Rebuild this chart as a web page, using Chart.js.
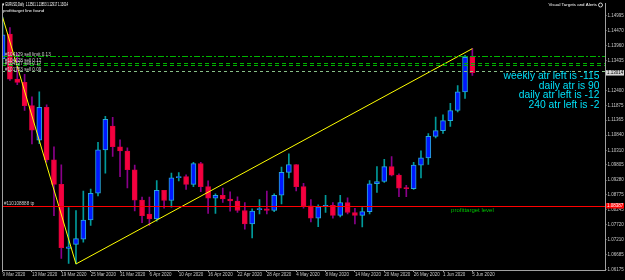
<!DOCTYPE html>
<html>
<head>
<meta charset="utf-8">
<script src="https://cdn.jsdelivr.net/npm/chart.js@4.4.0/dist/chart.umd.min.js"></script>
<style>
html, body { margin: 0; padding: 0; background: #000; }
</style>
</head>
<body>
<canvas id="chart" width="625" height="280"></canvas>
<script>
// EURUSD daily bars, 9 Mar - 5 Jun 2020
const days = ["9 Mar","10 Mar","11 Mar","12 Mar","13 Mar","16 Mar","17 Mar","18 Mar","19 Mar","20 Mar",
  "23 Mar","24 Mar","25 Mar","26 Mar","27 Mar","30 Mar","31 Mar","1 Apr","2 Apr","3 Apr",
  "6 Apr","7 Apr","8 Apr","9 Apr","10 Apr","13 Apr","14 Apr","15 Apr","16 Apr","17 Apr",
  "20 Apr","21 Apr","22 Apr","23 Apr","24 Apr","27 Apr","28 Apr","29 Apr","30 Apr","1 May",
  "4 May","5 May","6 May","7 May","8 May","11 May","12 May","13 May","14 May","15 May",
  "18 May","19 May","20 May","21 May","22 May","25 May","26 May","27 May","28 May","29 May",
  "1 Jun","2 Jun","3 Jun","4 Jun","5 Jun"]

const opens = [1.1350,1.1436,1.1279,1.1268,1.1187,1.1067,1.1181,1.0998,1.0913,1.0690,
  1.0704,1.0722,1.0789,1.0882,1.1033,1.1116,1.1044,1.1029,1.0964,1.0858,
  1.0810,1.0793,1.0892,1.0857,1.0936,1.0940,1.0913,1.0985,1.0905,1.0865,
  1.0875,1.0862,1.0855,1.0822,1.0775,1.0825,1.0828,1.0822,1.0875,1.0955,
  1.0982,1.0905,1.0838,1.0795,1.0835,1.0840,1.0805,1.0850,1.0815,1.0805,
  1.0818,1.0915,1.0923,1.0975,1.0945,1.0900,1.0898,1.0980,1.1005,1.1080,
  1.1100,1.1135,1.1170,1.1235,1.13561]
const highs = [1.1495,1.1459,1.1370,1.1296,1.1218,1.1235,1.1190,1.1044,1.0981,1.0832,
  1.0822,1.0890,1.0897,1.1059,1.1150,1.1146,1.1068,1.1040,1.0980,1.0869,
  1.0869,1.0926,1.0892,1.0952,1.0954,1.0946,1.0990,1.0990,1.0925,1.0880,
  1.0900,1.0887,1.0870,1.0850,1.0828,1.0860,1.0890,1.0880,1.0973,1.1019,
  1.0982,1.0917,1.0860,1.0842,1.0875,1.0850,1.0875,1.0866,1.0830,1.0832,
  1.0926,1.0975,1.1000,1.1010,1.0950,1.0910,1.0990,1.1030,1.1090,1.1147,
  1.1155,1.1195,1.1257,1.1362,1.13853]
const lows = [1.1330,1.1275,1.1260,1.1170,1.1054,1.1055,1.0990,1.0804,1.0655,1.0638,
  1.0636,1.0712,1.0770,1.0873,1.0952,1.1010,1.0940,1.0901,1.0821,1.0780,
  1.0770,1.0785,1.0830,1.0834,1.0925,1.0895,1.0905,1.0888,1.0812,1.0812,
  1.0850,1.0820,1.0815,1.0757,1.0727,1.0810,1.0810,1.0818,1.0845,1.0935,
  1.0890,1.0830,1.0782,1.0766,1.0815,1.0795,1.0800,1.0810,1.0775,1.0765,
  1.0810,1.0885,1.0920,1.0942,1.0870,1.0870,1.0895,1.0935,1.0982,1.1075,
  1.1090,1.1115,1.1165,1.1212,1.12917]
const closes = [1.1433,1.1279,1.1268,1.1187,1.1102,1.1181,1.0998,1.0913,1.0693,1.0696,
  1.0724,1.0789,1.0882,1.1033,1.1139,1.1044,1.1029,1.0964,1.0858,1.0804,
  1.0793,1.0892,1.0857,1.0936,1.0940,1.0913,1.0985,1.0905,1.0865,1.0875,
  1.0862,1.0855,1.0822,1.0775,1.0820,1.0828,1.0822,1.0875,1.0955,1.0982,
  1.0905,1.0838,1.0795,1.0835,1.0840,1.0805,1.0850,1.0815,1.0805,1.0818,
  1.0915,1.0923,1.0975,1.0945,1.0900,1.0898,1.0980,1.1005,1.1080,1.1100,
  1.1135,1.1170,1.1235,1.1355,1.13014]

const xTickIdx = [0,4,8,12,16,20,24,28,32,36,40,44,48,52,56,60,64]
const xTickLabels = ["9 Mar 2020","13 Mar 2020","19 Mar 2020","25 Mar 2020","31 Mar 2020","6 Apr 2020",
  "10 Apr 2020","16 Apr 2020","22 Apr 2020","28 Apr 2020","4 May 2020","8 May 2020","14 May 2020",
  "20 May 2020","26 May 2020","1 Jun 2020","5 Jun 2020"]
const yTicks = [1.14995,1.14470,1.13960,1.13435,1.12400,1.11875,1.11365,1.10840,1.10310,
  1.09805,1.09280,1.08775,1.08245,1.07720,1.07210,1.06685,1.06175]

// trend line anchors (bar index, price)
const trendIdx = [0, 10, 64]
const trendPrice = [1.1495, 1.0636, 1.13853]

// order lines and their labels
const orderPrices = [1.13581, 1.13358, 1.13272, 1.13064]
const orderLabels = ["#104129 sell limit 0.13", "#104128 sell 0.17", "#104127 sell 0.17", "#101753 sell 0.09"]
const targetPrice = 1.08387
const targetLabel = "#110108888 tp"
const bidPrice = 1.13014

const atrTexts = ["weekly atr left is -115", "daily atr is 90", "daily atr left is -12", "240 atr left is -2"]
const title = "\u25BC EURUSD,Daily  1.13561 1.13853 1.12917 1.13014"

const bull = days.map((d, i) => closes[i] >= opens[i])

const bodies = days.map((d, i) => ({ x: i, y: [Math.min(opens[i], closes[i]), Math.max(opens[i], closes[i])] }))
const wicks = days.map((d, i) => ({ x: i, y: [lows[i], highs[i]] }))
const trend = trendIdx.map((v, i) => ({ x: v, y: trendPrice[i] }))

function txt(ctx, s, x, y, color, size, align, fitW) {
    ctx.save()
    ctx.font = size + "px 'Liberation Sans', Arial, sans-serif"
    ctx.fillStyle = color
    ctx.textBaseline = "middle"
    let w = ctx.measureText(s).width
    let k = fitW ? fitW / w : 1
    ctx.translate(x, y)
    ctx.scale(k, 1)
    ctx.textAlign = align
    ctx.fillText(s, 0, 0)
    ctx.restore()
}

const overlay = {
    id: "overlay",
    beforeDraw(chart) {
        const c = chart.ctx
        c.save()
        c.fillStyle = "#000"
        c.fillRect(0, 0, chart.width, chart.height)
        c.restore()
    },
    afterDatasetsDraw(chart) {
        const { ctx, chartArea: a, scales: { y } } = chart
        ctx.save()
        ctx.beginPath()
        ctx.rect(a.left, a.top, a.right - a.left, a.bottom - a.top)
        ctx.clip()
        ctx.lineWidth = 1
        const cols = ["#00b400", "#00b400", "#00b400", "#88c088"]
        const dashes = [[6, 2, 2, 2], [4, 3], [4, 3], [3, 3]]
        orderPrices.forEach((p, i) => {
            const py = Math.round(y.getPixelForValue(p)) + 0.5
            ctx.strokeStyle = cols[i]
            ctx.setLineDash(dashes[i])
            ctx.beginPath()
            ctx.moveTo(a.left, py)
            ctx.lineTo(a.right, py)
            ctx.stroke()
        })
        ctx.setLineDash([])
        const ty = Math.round(y.getPixelForValue(targetPrice)) + 0.5
        ctx.strokeStyle = "#ff0000"
        ctx.beginPath()
        ctx.moveTo(a.left, ty)
        ctx.lineTo(a.right, ty)
        ctx.stroke()
        ctx.restore()
    },
    afterDraw(chart) {
        const { ctx, chartArea: a, scales: { x, y } } = chart
        // left frame line
        ctx.save()
        ctx.strokeStyle = "#a0a0a0"
        ctx.lineWidth = 1
        ctx.beginPath()
        ctx.moveTo(a.left + 0.5, a.top)
        ctx.lineTo(a.left + 0.5, a.bottom)
        ctx.stroke()
        ctx.restore()

        txt(ctx, title, 2, 5, "#ffffff", 4.6, "left", 66)
        txt(ctx, "profittarget line found", 3, 10.7, "#ffffff", 4.4, "left")
        txt(ctx, "Visual Targets and Alerts", 597, 5, "#ffffff", 4.4, "right")
        ctx.save()
        ctx.strokeStyle = "#ffffff"
        ctx.lineWidth = 0.8
        ctx.beginPath()
        ctx.arc(600.5, 5, 2, 0, Math.PI * 2)
        ctx.stroke()
        ctx.restore()

        orderLabels.forEach((s, i) => {
            const py = y.getPixelForValue(orderPrices[i])
            txt(ctx, s, 5, py - 2, "#d0d0d0", 4.6, "left")
        })
        const ty = y.getPixelForValue(targetPrice)
        txt(ctx, targetLabel, 4, ty - 2.3, "#d0d0d0", 4.6, "left")
        txt(ctx, "profittarget level", x.getPixelForValue(61.1), ty + 4.5, "#00c000", 6, "left")

        const atrY = [76, 86, 95.5, 105]
        atrTexts.forEach((s, i) => txt(ctx, s, 599.5, atrY[i], "#00e0f8", 10.3, "right"))

        // price boxes on the axis
        const box = (p, label, bg, fg) => {
            const py = y.getPixelForValue(p)
            ctx.save()
            ctx.fillStyle = bg
            ctx.fillRect(a.right + 1, py - 2.6, 18, 5.4)
            ctx.restore()
            txt(ctx, label, a.right + 2, py, fg, 4.5, "left")
        }
        box(bidPrice, bidPrice.toFixed(5), "#d8d8d8", "#000000")
        box(targetPrice, targetPrice.toFixed(5), "#ff0000", "#ffffff")
    }
}

new Chart(document.getElementById("chart"), {
    type: "bar",
    data: {
        datasets: [
            {
                type: "line",
                data: trend,
                borderColor: "#ffff00",
                borderWidth: 1,
                pointRadius: 0,
                tension: 0,
                order: 0
            },
            {
                data: bodies,
                backgroundColor: bull.map(b => b ? "#0018ff" : "#f5003f"),
                borderColor: bull.map(b => b ? "#2aa6d8" : "#e0003a"),
                borderWidth: 1,
                borderSkipped: false,
                barThickness: 5,
                minBarLength: 1,
                grouped: false,
                order: 1
            },
            {
                data: wicks,
                backgroundColor: bull.map(b => b ? "#009a9a" : "#8a008a"),
                borderWidth: 0,
                barThickness: 1,
                grouped: false,
                order: 2
            }
        ]
    },
    options: {
        responsive: false,
        animation: false,
        layout: { padding: { left: 2, right: 0, top: 0, bottom: 0 } },
        plugins: { legend: { display: false }, tooltip: { enabled: false } },
        scales: {
            x: {
                type: "linear",
                min: -0.08,
                max: 82.07,
                offset: false,
                afterBuildTicks: s => { s.ticks = xTickIdx.map(v => ({ value: v })) },
                afterFit: s => { s.height = 10 },
                ticks: {
                    autoSkip: false,
                    maxRotation: 0,
                    align: "start",
                    padding: 0,
                    color: "#c8c8c8",
                    font: { family: "Liberation Sans", size: 4.5 },
                    callback: (v, i) => xTickLabels[i]
                },
                grid: { display: true, drawOnChartArea: false, tickLength: 2, color: "#a0a0a0", offset: false },
                border: { display: true, color: "#a0a0a0" }
            },
            y: {
                position: "right",
                min: 1.0615,
                max: 1.15417,
                afterBuildTicks: s => { s.ticks = yTicks.map(v => ({ value: v })) },
                afterFit: s => { s.width = 20 },
                ticks: {
                    autoSkip: false,
                    padding: 1,
                    color: "#c8c8c8",
                    font: { family: "Liberation Sans", size: 4.5 },
                    callback: v => v.toFixed(5)
                },
                grid: { display: true, drawOnChartArea: false, tickLength: 1.5, color: "#a0a0a0" },
                border: { display: true, color: "#a0a0a0" }
            }
        }
    },
    plugins: [overlay]
})
</script>
</body>
</html>
